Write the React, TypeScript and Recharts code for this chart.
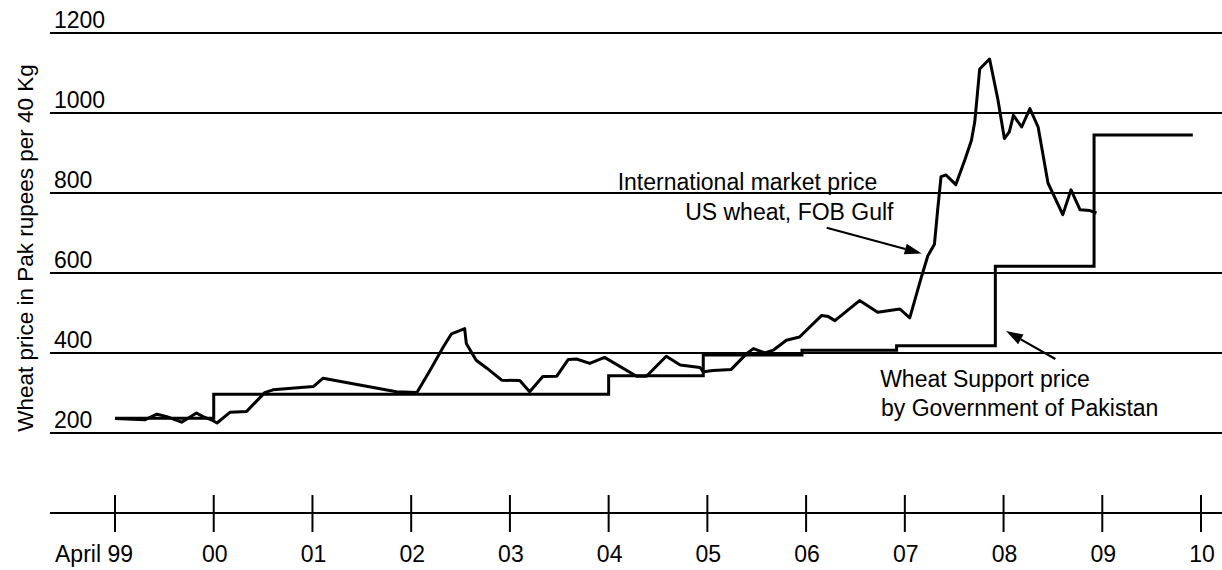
import React from "react";
import {
  LineChart,
  Line,
  XAxis,
  YAxis,
  CartesianGrid,
  ReferenceLine,
  ReferenceDot,
} from "recharts";

// x values are months counted from April 1999
const X_TICKS = [0, 12, 24, 36, 48, 60, 72, 84, 96, 108, 120, 132];
const X_LABELS = ["April 99", "00", "01", "02", "03", "04", "05", "06", "07", "08", "09", "10"];
const Y_TICKS = [0, 200, 400, 600, 800, 1000, 1200];

// International market price, US wheat FOB Gulf (Rs / 40 kg)
const INTL_MONTHS = [
  0, 3.6, 5.1, 6.3, 8.1, 9.9, 10.7, 11.7, 12.4, 14, 16, 18.2, 19.2, 24.1, 25.3,
  34.2, 36.7, 38.3, 39.9, 40.9, 42.5, 42.7, 43.9, 45.2, 47, 49.2, 50.4, 52, 53.7,
  55.1, 56.1, 57.7, 59.5, 63.4, 64.6, 67, 68.7, 71.1, 71.5, 72.7, 74.9, 76.8, 77.6,
  79, 80, 81.6, 83.2, 85.9, 86.7, 87.5, 90.5, 92.7, 95.4, 96.6, 98, 98.8, 99.6, 100,
  100.4, 101, 102.2, 103.3, 104.1, 104.5, 105.1, 106.3, 107.3, 108.1, 108.7, 109.2,
  110.2, 111.2, 112.2, 113.4, 115.2, 116.2, 117.3, 118.5, 119.3,
];
const INTL_PRICES = [
  236, 233, 247, 241, 227, 250, 241, 233, 225, 252, 254, 301, 308, 316, 337,
  303, 301, 357, 415, 448, 461, 424, 382, 362, 332, 331, 303, 341, 342,
  384, 385, 374, 389, 342, 342, 392, 370, 364, 353, 356, 359, 399, 411,
  400, 407, 432, 440, 494, 491, 481, 531, 502, 510, 488, 589, 643, 672, 760,
  841, 845, 821, 883, 932, 978, 1110, 1135, 1035, 936, 953, 994,
  965, 1011, 965, 825, 746, 808, 758, 756, 750,
];

// Wheat support price by Government of Pakistan
const SUPPORT_MONTHS = [0, 12, 60, 71.5, 83.5, 95, 107, 119, 131];
const SUPPORT_PRICES = [237, 297, 343, 395, 407, 418, 617, 945, 945];

// annotations (month, price)
const NOTE_TEXT = [
  "International market price",
  "US wheat, FOB Gulf",
  "Wheat Support price",
  "by Government of Pakistan",
];
const NOTE_MONTH = [61.1, 69.3, 93.0, 93.1];
const NOTE_PRICE = [807, 732, 316, 242];

const ARROW_FROM = [
  { x: 86.5, y: 713 },
  { x: 114.3, y: 385 },
];
const ARROW_TO = [
  { x: 98.05, y: 649 },
  { x: 108.3, y: 455 },
];

const FONT = '"Liberation Sans", Arial, Helvetica, sans-serif';

const intlData = INTL_MONTHS.map((m, i) => ({ m, intl: INTL_PRICES[i] }));
const supportData = SUPPORT_MONTHS.map((m, i) => ({ m, support: SUPPORT_PRICES[i] }));

const XTick = (props: any) => {
  const { x, y, payload } = props;
  const idx = X_TICKS.indexOf(payload.value);
  const first = idx === 0;
  return (
    <g>
      <line x1={x} x2={x} y1={y - 18} y2={y + 19} stroke="#000" strokeWidth={2} />
      <text
        x={first ? x + 18 : x + 1}
        y={y + 49}
        textAnchor={first ? "end" : "middle"}
        fontFamily={FONT}
        fontSize={23}
        fill="#000"
      >
        {X_LABELS[idx]}
      </text>
    </g>
  );
};

const YTick = (props: any) => {
  const { y, payload } = props;
  if (payload.value === 0) return <g />;
  return (
    <text x={54} y={y - 5} fontFamily={FONT} fontSize={23} fill="#000">
      {payload.value}
    </text>
  );
};

const arrowShape = (p: any) => {
  const { x1, y1, x2, y2 } = p;
  const ang = Math.atan2(y2 - y1, x2 - x1);
  const len = 17;
  const half = 5.5;
  const bx = x2 - len * Math.cos(ang);
  const by = y2 - len * Math.sin(ang);
  const nx = -Math.sin(ang) * half;
  const ny = Math.cos(ang) * half;
  return (
    <g>
      <line x1={x1} y1={y1} x2={bx} y2={by} stroke="#000" strokeWidth={2.2} />
      <polygon
        points={`${x2},${y2} ${bx + nx},${by + ny} ${bx - nx},${by - ny}`}
        fill="#000"
      />
    </g>
  );
};

const noteLabel = (text: string) => (props: any) => {
  const { viewBox } = props;
  return (
    <text x={viewBox.x} y={viewBox.y} fontFamily={FONT} fontSize={23} fill="#000">
      {text}
    </text>
  );
};

export default function App() {
  return (
    <div style={{ position: "absolute", left: 0, top: 0, background: "#fff" }}>
      <LineChart width={1222} height={570} margin={{ top: 33, right: 0, bottom: 0, left: 0 }}>
        <CartesianGrid vertical={false} stroke="#000" strokeWidth={1.8} />
        <XAxis
          type="number"
          dataKey="m"
          domain={[-7.9, 134.55]}
          ticks={X_TICKS}
          interval={0}
          allowDataOverflow
          height={57}
          tickSize={0}
          tickMargin={0}
          tickLine={false}
          axisLine={{ stroke: "#000", strokeWidth: 2 }}
          tick={XTick}
        />
        <YAxis
          type="number"
          domain={[0, 1200]}
          ticks={Y_TICKS}
          interval={0}
          width={50}
          axisLine={false}
          tickLine={false}
          tick={YTick}
          label={{
            content: () => (
              <text
                x={33}
                y={248}
                transform="rotate(-90 33 248)"
                textAnchor="middle"
                fontFamily={FONT}
                fontSize={22.5}
                fill="#000"
              >
                Wheat price in Pak rupees per 40 Kg
              </text>
            ),
          }}
        />
        <Line
          data={supportData}
          dataKey="support"
          type="stepAfter"
          stroke="#000"
          strokeWidth={3}
          dot={false}
          activeDot={false}
          isAnimationActive={false}
        />
        <Line
          data={intlData}
          dataKey="intl"
          type="linear"
          stroke="#000"
          strokeWidth={3}
          strokeLinejoin="round"
          dot={false}
          activeDot={false}
          isAnimationActive={false}
        />
        {ARROW_FROM.map((from, i) => (
          <ReferenceLine key={`arrow-${i}`} segment={[from, ARROW_TO[i]]} shape={arrowShape} />
        ))}
        {NOTE_TEXT.map((t, i) => (
          <ReferenceDot
            key={`note-${i}`}
            x={NOTE_MONTH[i]}
            y={NOTE_PRICE[i]}
            r={0}
            fill="none"
            stroke="none"
            label={noteLabel(t)}
          />
        ))}
      </LineChart>
    </div>
  );
}
